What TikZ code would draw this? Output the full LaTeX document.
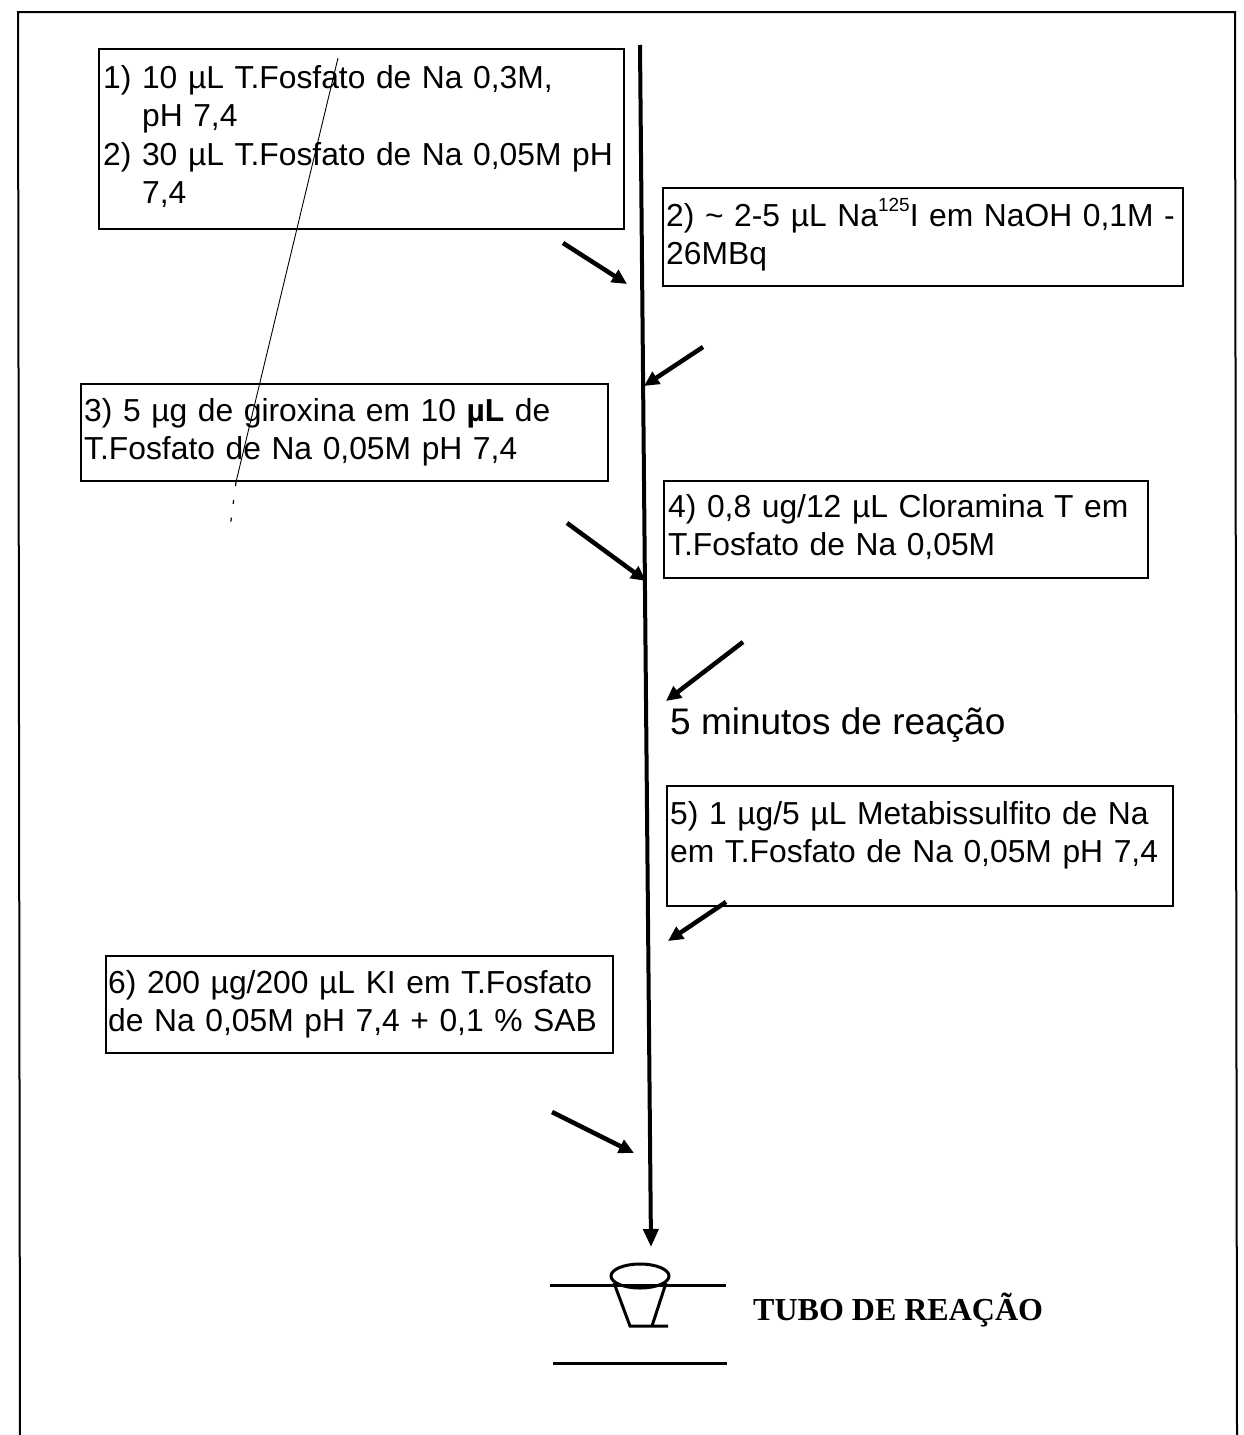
\documentclass[tikz,border=0pt]{standalone}
\usepackage{fontspec}
\setmainfont{Liberation Sans}
\newfontfamily\tubofont{Liberation Serif}
\usetikzlibrary{arrows.meta}
\newcommand{\supsm}[1]{\raisebox{0.45em}{\fontsize{19}{19}\selectfont #1}}
\begin{document}
\begin{tikzpicture}[x=1pt,y=-1pt,
  boxframe/.style={draw, line width=1.8pt, inner sep=0pt, anchor=north west},
  boxtext/.style={anchor=base west, inner sep=0pt, text width=#1, align=left,
     font=\fontsize{31.8}{38.5}\selectfont},
  boxtext/.default=600pt,
  feed/.style={line width=4.5pt, -{Triangle[length=15pt,width=14pt]}},
  frame/.style={line width=2pt}]
\useasboundingbox (0,0) rectangle (1244,1435);
% outer frame
\coordinate (fTL) at (18,12);
\coordinate (fTR) at (1235,12);
\coordinate (fBL) at (20,1435);
\coordinate (fBR) at (1237,1435);
\draw[frame] (fBL) -- (fTL) -- (fTR) -- (fBR);

% boxes
\node[boxframe, minimum width=525pt, minimum height=180pt] (b1) at (98,48) {};
\node[boxframe, minimum width=520pt, minimum height=98pt] (b2) at (662,187) {};
\node[boxframe, minimum width=527pt, minimum height=97pt] (b3) at (80,383) {};
\node[boxframe, minimum width=484pt, minimum height=97pt] (b4) at (663,480) {};
\node[boxframe, minimum width=506pt, minimum height=120pt] (b5) at (666,785) {};
\node[boxframe, minimum width=507pt, minimum height=97pt] (b6) at (105,955) {};

% texts
\node[boxtext] (t1) at (103,88) {1) 10 µL T.Fosfato de Na 0,3M,\\
\phantom{1) }pH 7,4\\
2) 30 µL T.Fosfato de Na 0,05M pH\\
\phantom{2) }7,4};
\node[boxtext] (t2) at (666,226) {2) \textasciitilde{} 2-5 µL Na\supsm{125}I em NaOH 0,1M -\\
26MBq};
\node[boxtext] (t3) at (84,421) {3) 5 µg de giroxina em 10 \textbf{µL} de\\
T.Fosfato de Na 0,05M pH 7,4};
\node[boxtext] (t4) at (668,517) {4) 0,8 ug/12 µL Cloramina T em\\
T.Fosfato de Na 0,05M};
\node[boxtext] (t5) at (670,824) {5) 1 µg/5 µL Metabissulfito de Na\\
em T.Fosfato de Na 0,05M pH 7,4};
\node[boxtext] (t6) at (108,993) {6) 200 µg/200 µL KI em T.Fosfato\\
de Na 0,05M pH 7,4 + 0,1 \% SAB};
\node[anchor=base west, inner sep=0pt, font=\fontsize{37}{40}\selectfont] (rx) at (670,734) {5 minutos de reação};

% main line
\coordinate (mTop) at (640,45);
\coordinate (mEnd) at (651,1247);
\draw[line width=4pt, -{Triangle[length=18pt,width=15pt]}] (mTop) -- (mEnd);

% feed arrows
\coordinate (a1s) at (563,243); \coordinate (a1e) at (627,284);
\coordinate (a2s) at (703,347); \coordinate (a2e) at (644,386);
\coordinate (a3s) at (567,523); \coordinate (a3e) at (646,581);
\coordinate (a4s) at (743,642); \coordinate (a4e) at (666,701);
\coordinate (a5s) at (726,902); \coordinate (a5e) at (668,941);
\coordinate (a6s) at (552,1112); \coordinate (a6e) at (634,1153);
\draw[feed] (a1s) -- (a1e);
\draw[feed] (a2s) -- (a2e);
\draw[feed] (a3s) -- (a3e);
\draw[feed] (a4s) -- (a4e);
\draw[feed] (a5s) -- (a5e);
\draw[feed] (a6s) -- (a6e);

% thin slanted trace line
\coordinate (d1) at (338,58);
\coordinate (d2) at (236,482);
\coordinate (d3) at (230,528);
\draw[line width=0.9pt] (d1) -- (d2);
\draw[line width=1.2pt, dash pattern=on 4pt off 14pt] (d2) -- (d3);

% reaction tube
\draw[line width=3pt] (550,1285) -- (726,1285);
\draw[line width=3pt] (553,1363) -- (727,1363);
\draw[line width=3pt, fill=white] (640,1276) ellipse [x radius=29pt, y radius=12pt];
\draw[line width=3pt] (614,1283) -- (630,1326) -- (668,1326);
\draw[line width=3pt] (666,1283) -- (652,1326);
\draw[line width=3pt] (614,1285) -- (666,1285);
\node[anchor=base west, inner sep=0pt, font=\tubofont\bfseries\fontsize{32}{34}\selectfont] (tubo) at (753,1320) {TUBO DE REAÇÃO};
\end{tikzpicture}
\end{document}
